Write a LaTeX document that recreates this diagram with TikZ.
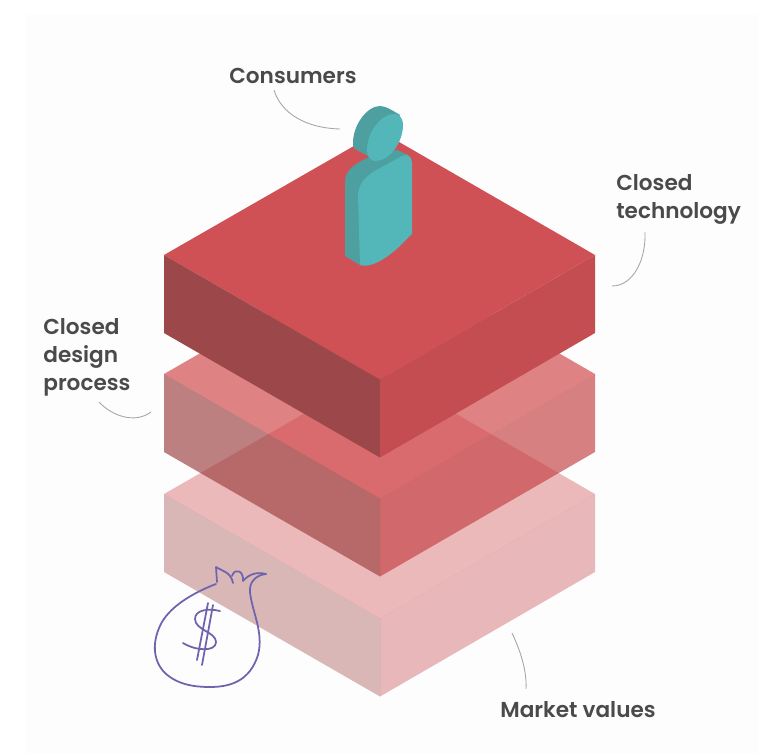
\documentclass[tikz,border=0pt]{standalone}
\usepackage{fontspec}
\setmainfont{Poppins}[BoldFont={Poppins SemiBold}]
\usepackage{xcolor}
\definecolor{faceTop}{HTML}{D04144}
\definecolor{faceLeft}{HTML}{9B3D3D}
\definecolor{faceRight}{HTML}{C33D41}
\definecolor{solidTop}{HTML}{D05155}
\definecolor{solidLeft}{HTML}{9C4749}
\definecolor{solidRight}{HTML}{C34D50}
\definecolor{tealFront}{HTML}{53B6B8}
\definecolor{tealSide}{HTML}{4E9FA0}
\definecolor{bagLine}{HTML}{6E63AE}
\definecolor{labelGrey}{HTML}{4A4A4A}
\tikzset{
  layerlabel/.style={font=\fontsize{12.3}{15.9}\selectfont\bfseries,text=labelGrey,align=left,inner sep=0pt},
  leader/.style={draw=gray!70,line width=0.5pt},
  bagstroke/.style={draw=bagLine,line width=1pt,line cap=round,line join=round}
}
% one slab: left corner at (#1,#2), three visible faces
\newcommand{\slab}[3]{%
  \fill[faceTop,#3] (#1,#2) -- ++(216,-124) -- ++(215,124) -- ++(-215,124.5) -- cycle;
  \fill[faceLeft,#3] (#1,#2) -- ++(216,124.5) -- ++(0,78) -- ++(-216,-124.5) -- cycle;
  \fill[faceRight,#3] (#1+216,#2+124.5) -- ++(215,-124.5) -- ++(0,78) -- ++(-215,124.5) -- cycle;
}
\begin{document}
\begin{tikzpicture}[x=0.02cm,y=-0.02cm]
    \useasboundingbox (0,0) rectangle (758,754);
    \fill[white] (0,0) rectangle (758,754);
    \fill[black!0.8] (26,14) rectangle (758,754);

    % Slabs, lowest first
    \slab{164}{494}{fill opacity=0.36}
    \slab{164}{374}{fill opacity=0.65}
    \fill[solidTop] (164,255) -- (380,131) -- (595,255) -- (380,379.5) -- cycle;
    \fill[solidLeft] (164,255) -- (380,379.5) -- (380,457.5) -- (164,333) -- cycle;
    \fill[solidRight] (380,379.5) -- (595,255) -- (595,333) -- (380,457.5) -- cycle;

    % Person, body
    \fill[tealSide] (345,182) .. controls (345,170) and (355,164) .. (367,158) -- (397,150) -- (408,155)
        -- (412,235) -- (360,265) -- (345,256) -- cycle;
    \fill[tealFront] (360,265) -- (358,195) .. controls (359,184) and (364,178) .. (373,172)
        -- (402,156) .. controls (408,153) and (412,157) .. (412,163) -- (412,233)
        .. controls (400,248) and (375,270) .. (360,265) -- cycle;
    % Person, head
    \fill[tealSide] (353,143) .. controls (353,125) and (367,106) .. (380,106)
        .. controls (385,106) and (392,110) .. (400,115) -- (380,161) -- (368,156) -- (355,149)
        .. controls (353,148) and (353,146) .. (353,143) -- cycle;
    \fill[tealFront] (367,150) .. controls (367,132) and (381,114) .. (394,114)
        .. controls (401,114) and (403,120) .. (403,125) .. controls (403,143) and (389,161) .. (376,161)
        .. controls (369,161) and (367,155) .. (367,150) -- cycle;

    % Money bag
    \draw[bagstroke] (216,584) .. controls (195,592) and (172,605) .. (162,622)
        .. controls (152,640) and (152,660) .. (165,673) .. controls (178,685) and (195,687) .. (210,687)
        .. controls (232,687) and (250,680) .. (258,655) .. controls (264,632) and (252,612) .. (250,592)
        .. controls (249,582) and (256,575) .. (266,574);
    \draw[bagstroke] (266,574) .. controls (258,572) and (250,573) .. (243,581)
        .. controls (244,571) and (235,567) .. (232,576);
    \draw[bagstroke] (217,582) -- (216,567) .. controls (222,571) and (231,572) .. (233,583);
    \draw[bagstroke] (220,611) .. controls (208,608) and (195,610) .. (195,619)
        .. controls (195,630) and (216,632) .. (216,642) .. controls (216,652) and (196,651) .. (183,643);
    \draw[bagstroke] (208,603) -- (197,660);
    \draw[bagstroke] (213,605) -- (202,665);

    % Labels
    \node[layerlabel,anchor=west] (consumers) at (229,76) {Consumers};
    \node[layerlabel,anchor=north west] (technology) at (616,174) {Closed\\technology};
    \node[layerlabel,anchor=north west] (design) at (43,318) {Closed\\design\\process};
    \node[layerlabel,anchor=west] (market) at (500,710) {Market values};

    % Leader curves
    \coordinate (fromConsumers) at (274,90);
    \coordinate (toPerson) at (340,129);
    \coordinate (fromTechnology) at (645,232);
    \coordinate (toTop) at (612,286);
    \coordinate (fromDesign) at (99,402);
    \coordinate (toMiddle) at (151,412);
    \coordinate (fromMarket) at (526,689);
    \coordinate (toBottom) at (512,633);
    \draw[leader] (fromConsumers) .. controls (281,113) and (305,128) .. (toPerson);
    \draw[leader] (fromTechnology) .. controls (646,262) and (632,286) .. (toTop);
    \draw[leader] (fromDesign) .. controls (112,416) and (135,424) .. (toMiddle);
    \draw[leader] (toBottom) .. controls (520,650) and (527,670) .. (fromMarket);
\end{tikzpicture}
\end{document}
